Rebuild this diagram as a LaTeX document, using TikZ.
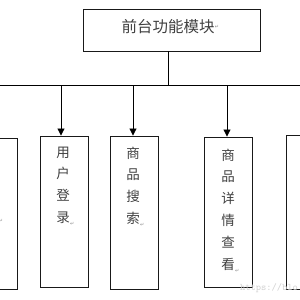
\documentclass[tikz,border=0pt]{standalone}
\usepackage{fontspec}
\newfontfamily\cjk{Noto Sans CJK SC}
\newfontfamily\dv{DejaVu Sans}
\usetikzlibrary{arrows.meta}
\tikzset{
  box/.style={draw=black!90, line width=0.9pt, minimum width=48pt, inner sep=0pt},
  vtext/.style={anchor=north, align=center, inner sep=0pt, text=black!75, font=\cjk\fontsize{13.5}{21.8}\selectfont},
  conn/.style={line width=0.85pt, draw=black},
  arr/.style={conn, -{Triangle[length=7pt,width=7pt]}},
  ret/.style={text=black!45, font=\dv\fontsize{5}{5}\selectfont, inner sep=0pt}
}
\begin{document}
\begin{tikzpicture}[x=1pt,y=-1pt]
\useasboundingbox[fill=white] (0,0) rectangle (300,300);
% top box
\node[box, minimum width=177pt, minimum height=42pt] (top) at (171.5,30) {};
\node[inner sep=0pt, text=black!75, font=\cjk\fontsize{15.5}{18}\selectfont] (toptxt) at (168,27) {前台功能模块};
\node[ret, anchor=west] (topret) at (toptxt.east) {↵};
% bus
\coordinate (bj) at (168,85);
\coordinate (bl) at (0,85);
\coordinate (br) at (300,85);
\draw[conn] (top.south -| bj) -- (bj);
\draw[conn] (bl) -- (br);
% boxes
\node[box, minimum height=151pt] (b1) at (64,211.5) {};
\node[box, minimum height=153pt] (b2) at (134,212.5) {};
\node[box, minimum height=150pt] (b3) at (228,212) {};
\node[box, minimum height=151pt] (b0) at (-7,213.5) {};
\node[box, minimum height=154pt] (b4) at (310,212) {};
% arrows
\coordinate (a1) at (61,85);
\coordinate (a2) at (133,85);
\coordinate (a3) at (227,85);
\draw[arr] (a1) -- (a1 |- b1.north);
\draw[arr] (a2) -- (a2 |- b2.north);
\draw[arr] (a3) -- (a3 |- b3.north);
% texts
\node[vtext] (t1) at (63,146.5) {用\\户\\登\\录};
\node[vtext] (t2) at (133,146.5) {商\\品\\搜\\索};
\node[vtext] (t3) at (228,148.5) {商\\品\\详\\情\\查\\看};
\node[ret, anchor=south west] at ([yshift=-2pt]t1.south east) {↵};
\node[ret, anchor=south west] at ([yshift=-2pt]t2.south east) {↵};
\node[ret, anchor=south west] at ([yshift=-2pt]t3.south east) {↵};
\node[ret] (r0) at (1,221) {↵};
% watermark
\node[anchor=west, inner sep=0pt, text=black!18, font=\ttfamily\fontsize{10}{10}\selectfont] (wm) at (240,288) {https://blo};
\end{tikzpicture}
\end{document}
